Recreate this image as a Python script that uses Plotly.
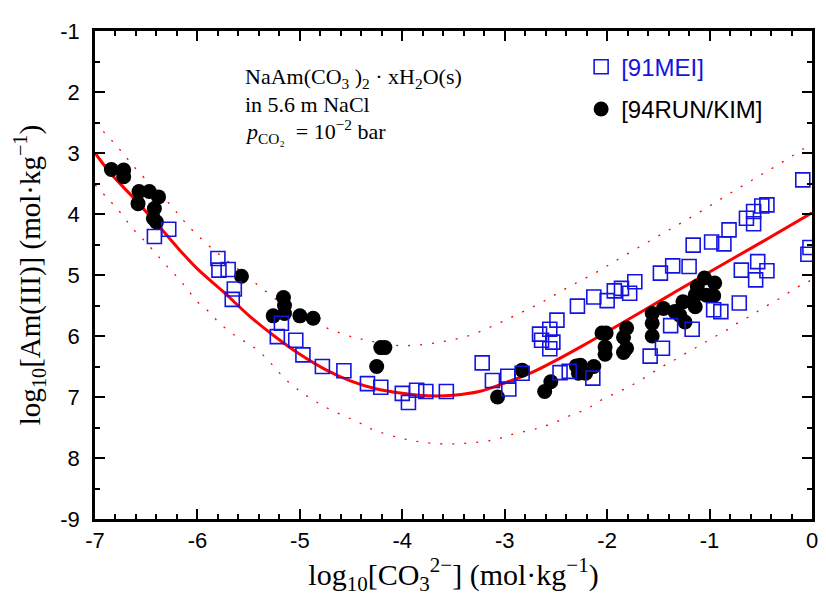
import plotly.graph_objects as go

# ---- data ----
mei_x = [-6.42, -6.28, -5.80, -5.79, -5.70, -5.64, -5.66, -5.18, -5.22, -5.04, -4.97, -4.78, -4.57,
         -4.34, -4.21, -4.00, -3.94, -3.86, -3.77, -3.57, -3.22, -3.12, -2.97, -2.96, -2.83,
         -2.66, -2.64, -2.56, -2.49, -2.53, -2.56, -2.46, -2.37, -2.14, -2.29, -2.13, -2.00,
         -1.93, -1.86, -1.78, -1.73, -1.58, -1.46, -1.38, -1.17, -0.96, -0.89, -0.71, -1.48,
         -1.36, -1.20, -1.16, -0.98, -0.86, -0.81, -0.64, -0.57, -0.57, -0.49, -0.44, -0.69,
         -0.53, -0.44, -0.55, -0.09, -0.02, -0.04]
mei_y = [-4.37, -4.25, -4.73, -4.92, -4.91, -5.23, -5.40, -5.79, -6.01, -6.07, -6.31, -6.50, -6.57,
         -6.78, -6.84, -6.94, -7.09, -6.89, -6.91, -6.91, -6.44, -6.73, -6.66, -6.87, -6.61,
         -5.97, -6.07, -5.89, -5.74, -6.10, -6.21, -6.60, -6.58, -6.69, -5.51, -5.36, -5.42,
         -5.26, -5.22, -5.30, -5.11, -6.33, -6.20, -5.83, -5.89, -5.57, -5.60, -5.46, -4.97,
         -4.85, -4.86, -4.51, -4.46, -4.49, -4.26, -4.07, -3.96, -4.16, -3.87, -3.85, -4.92,
         -4.78, -4.93, -5.08, -3.44, -4.55, -4.66]

rk_x = [-6.84, -6.72, -6.72, -6.57, -6.47, -6.38, -6.58, -6.42, -6.43, -6.40, -5.57, -5.16, -5.15,
        -5.26, -5.15, -5.00, -4.87, -4.21, -4.17, -4.25, -3.07, -2.83, -2.55, -2.61, -2.30, -2.28,
        -2.26, -2.21, -2.13, -2.05, -2.01, -2.02, -2.02, -1.81, -1.84, -1.81, -1.84, -1.56, -1.56,
        -1.56, -1.45, -1.34, -1.29, -1.24, -1.26, -1.14, -1.14, -1.12, -1.05, -0.95, -1.03, -0.96]
rk_y = [-3.27, -3.28, -3.39, -3.63, -3.63, -3.72, -3.83, -3.91, -4.07, -4.13, -5.02, -5.37, -5.50,
        -5.67, -5.63, -5.67, -5.71, -6.19, -6.19, -6.50, -7.00, -6.56, -6.75, -6.91, -6.49, -6.61,
        -6.48, -6.61, -6.50, -5.95, -5.95, -6.18, -6.30, -5.87, -6.02, -6.20, -6.27, -5.63, -5.79,
        -6.00, -5.55, -5.60, -5.66, -5.77, -5.44, -5.52, -5.33, -5.19, -5.05, -5.13, -5.33, -5.34]

fit_x = [-7.0, -6.85, -6.65, -6.4, -6.2, -6.0, -5.75, -5.5, -5.25, -5.0, -4.75, -4.5, -4.25, -4.0,
         -3.75, -3.5, -3.25, -3.0, -2.75, -2.5, -2.25, -2.0, -1.5, -1.0, -0.5, 0.0]
fit_y = [-3.0, -3.33, -3.69, -4.15, -4.54, -4.90, -5.27, -5.66, -6.00, -6.30, -6.55, -6.74, -6.87,
         -6.94, -6.98, -6.97, -6.91, -6.77, -6.61, -6.40, -6.17, -5.93, -5.44, -4.95, -4.47, -3.98]

up_x = [-7.0, -6.78, -6.59, -6.28, -6.07, -5.84, -5.63, -5.45, -5.19, -4.97, -4.72, -4.48, -4.34,
        -4.10, -3.86, -3.60, -3.36, -3.11, -2.87, -2.62, -2.38, -2.12, -1.87, -1.51, -1.26, -1.01,
        -0.77, -0.53, -0.28, 0.0]
up_y = [-2.50, -2.90, -3.28, -3.82, -4.23, -4.59, -4.87, -5.11, -5.45, -5.68, -5.88, -6.02, -6.07,
        -6.15, -6.15, -6.09, -6.00, -5.83, -5.64, -5.43, -5.20, -4.97, -4.72, -4.37, -4.13, -3.88,
        -3.63, -3.39, -3.14, -2.84]

lo_x = [-7.0, -6.89, -6.78, -6.62, -6.51, -6.41, -6.30, -6.20, -6.10, -6.00, -5.89, -5.79, -5.66,
        -5.40, -5.10, -4.80, -4.41, -4.31, -4.00, -3.70, -3.40, -3.10, -2.90, -2.69, -2.58, -2.46,
        -2.33, -2.20, -2.09, -1.96, -1.82, -1.70, -1.47, -1.34, -1.22, -1.09, -0.97, -0.83, -0.72,
        -0.59, -0.48, -0.34, -0.22, -0.10, 0.0]
lo_y = [-3.52, -3.72, -3.92, -4.26, -4.45, -4.64, -4.85, -5.03, -5.23, -5.44, -5.60, -5.78, -5.96,
        -6.25, -6.77, -7.12, -7.43, -7.52, -7.68, -7.76, -7.76, -7.70, -7.60, -7.52, -7.46, -7.38,
        -7.28, -7.20, -7.08, -6.97, -6.86, -6.75, -6.51, -6.39, -6.27, -6.15, -6.03, -5.90, -5.78,
        -5.66, -5.54, -5.41, -5.28, -5.16, -5.08]

x_ticks = [-7, -6, -5, -4, -3, -2, -1, 0]
x_ticktext = ["-7", "-6", "-5", "-4", "-3", "-2", "-1", "0"]
y_ticks = [-1, -2, -3, -4, -5, -6, -7, -8, -9]
y_ticktext = ["-1", "2", "3", "4", "5", "6", "7", "8", "-9"]

SERIF = "Liberation Serif, Times New Roman, serif"
SANS = "Liberation Sans, Arial, sans-serif"
RED = "rgb(255,0,0)"
BLUE = "rgb(20,20,225)"

fig = go.Figure()
fig.add_trace(go.Scatter(x=up_x, y=up_y, mode="lines", line=dict(color=RED, width=1.3, dash="2px,10px", shape="spline"),
                         showlegend=False, hoverinfo="skip"))
fig.add_trace(go.Scatter(x=lo_x, y=lo_y, mode="lines", line=dict(color=RED, width=1.3, dash="2px,10px", shape="spline"),
                         showlegend=False, hoverinfo="skip"))
fig.add_trace(go.Scatter(x=fit_x, y=fit_y, mode="lines", line=dict(color=RED, width=3, shape="spline"),
                         showlegend=False, hoverinfo="skip"))
fig.add_trace(go.Scatter(x=rk_x, y=rk_y, mode="markers", name="[94RUN/KIM]", legendrank=2, legendgroup="b",
                         marker=dict(symbol="circle", size=15, color="black", line=dict(width=0))))
fig.add_trace(go.Scatter(x=mei_x, y=mei_y, mode="markers",
                         name="<span style='color:rgb(20,20,225)'>[91MEI]</span>", legendrank=1, legendgroup="a",
                         marker=dict(symbol="square-open", size=14, color=BLUE, line=dict(width=1.6, color=BLUE))))

axis_common = dict(showline=True, linewidth=2.5, linecolor="black", mirror="ticks", ticks="inside",
                   ticklen=10, tickwidth=2, tickcolor="black", showgrid=False, zeroline=False,
                   automargin=False, tickfont=dict(family=SANS, size=22, color="black"))

fig.update_xaxes(range=[-7, 0], tickmode="array", tickvals=x_ticks, ticktext=x_ticktext,
                 minor=dict(ticks="inside", ticklen=5, tickwidth=1.5, dtick=0.2, tick0=0, tickcolor="black", showgrid=False),
                 title=dict(text="log<sub>10</sub>[CO<sub>3</sub><sup>2−</sup>] (mol·kg<sup>−1</sup>)",
                            font=dict(family=SERIF, size=30, color="black"), standoff=2),
                 ticklabelstandoff=0, **axis_common)
fig.update_yaxes(range=[-9, -1], tickmode="array", tickvals=y_ticks, ticktext=y_ticktext,
                 minor=dict(ticks="inside", ticklen=5, tickwidth=1.5, dtick=0.5, tick0=0, tickcolor="black", showgrid=False),
                 title=dict(text="log<sub>10</sub>[Am(III)] (mol·kg<sup>−1</sup>)",
                            font=dict(family=SERIF, size=29, color="black"), standoff=12),
                 ticklabelstandoff=8, **axis_common)

ann_font = dict(family=SERIF, size=22, color="black")
fig.add_annotation(x=-5.56, y=-1.77, xref="x", yref="y", xanchor="left", yanchor="middle", showarrow=False,
                   text="NaAm(CO<sub>3</sub> )<sub>2</sub> · xH<sub>2</sub>O(s)", font=ann_font)
fig.add_annotation(x=-5.56, y=-2.21, xref="x", yref="y", xanchor="left", yanchor="middle", showarrow=False,
                   text="in 5.6 m NaCl", font=ann_font)
fig.add_annotation(x=-5.56, y=-2.64, xref="x", yref="y", xanchor="left", yanchor="middle", showarrow=False,
                   text="<i>p</i><sub>CO₂</sub>  = 10<sup>−2</sup> bar", font=ann_font)

fig.update_layout(
    width=826, height=596,
    margin=dict(l=95, r=14, t=31, b=77),
    paper_bgcolor="white", plot_bgcolor="white",
    showlegend=True,
    legend=dict(x=0.678, y=0.972, xanchor="left", yanchor="top", bgcolor="rgba(0,0,0,0)",
                font=dict(family=SANS, size=24, color="black"), tracegroupgap=8, traceorder="grouped"),
)

fig.write_html("out.html", config={"displayModeBar": False},
               post_script="document.body.style.margin='0';document.body.style.overflow='hidden';")
